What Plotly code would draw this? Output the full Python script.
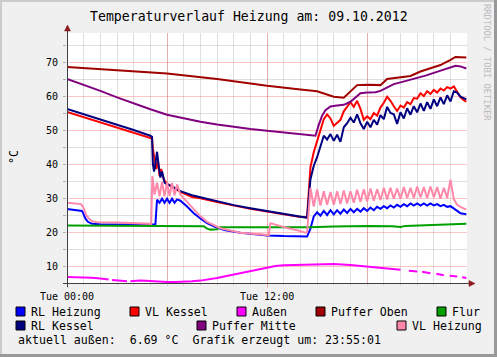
import plotly.graph_objects as go

# ---------------- data (hours of the day, °C) ----------------
PM_T = [14.4, 14.6, 14.8, 15.0, 15.2, 15.4, 15.6, 15.8, 16.0, 16.2, 16.4, 16.6, 16.8, 17.0,
        17.2, 17.4, 17.6, 17.8, 18.0, 18.2, 18.4, 18.6, 18.8, 19.0, 19.2, 19.4, 19.6, 19.8,
        20.0, 20.2, 20.4, 20.6, 20.8, 21.0, 21.2, 21.4, 21.6, 21.8, 22.0, 22.2, 22.4, 22.6,
        22.8, 23.0, 23.2, 23.4, 23.6, 23.8, 23.95]

rl_heizung_t = [0, 0.5, 0.9, 1.0, 1.1, 1.25, 1.5, 2.0, 5.3, 5.4, 5.55, 5.7, 5.85, 6.0, 6.15, 6.3,
                6.45, 6.6, 6.8, 7.2, 7.6, 8.0, 8.4, 9.0, 9.5, 10.4, 11.2, 12.0, 13.0, 14.0] + PM_T
rl_heizung_v = [26.8, 26.5, 26.2, 25.2, 24.0, 23.0, 22.4, 22.3, 22.2, 29.5, 28.6, 29.8, 28.6, 29.8,
                28.6, 29.8, 28.6, 29.6, 29.2, 27.5, 25.5, 24.0, 22.6, 21.2, 20.5, 19.8, 19.3, 19.0,
                18.8, 18.7,
                18.7, 21.0, 24.6, 25.8, 24.8, 26.2, 25.0, 26.4, 25.2, 26.4, 25.4, 26.6, 25.6, 26.8,
                25.8, 26.8, 26.0, 27.0, 26.2, 27.2, 26.4, 27.4, 26.8, 27.6, 27.0, 27.8, 27.2, 28.0,
                27.4, 28.2, 27.6, 28.4, 27.8, 28.4, 27.8, 28.4, 27.8, 28.4, 27.8, 28.2, 27.6, 28.0,
                27.4, 27.6, 26.8, 26.2, 25.5, 25.2, 25.2]

vl_kessel_t = [0, 1, 2, 3, 4, 5.0, 5.1, 5.15, 5.25, 5.35, 5.45, 5.55, 5.65, 5.8, 6.0, 6.3, 6.8,
               7.5, 8.0, 9.0, 10.0, 11.0, 12.0, 13.0, 14.0] + PM_T
vl_kessel_v = [55.3, 53.8, 52.3, 50.8, 49.3, 47.8, 47.5, 44.5, 41.5, 38.5, 41.0, 36.5, 38.5, 35.5,
               34.2, 33.3, 31.8, 30.3, 29.9, 28.8, 27.7, 26.8, 26.0, 25.2, 24.4,
               24.5, 39.0, 43.5, 46.5, 50.0, 53.2, 54.6, 53.4, 51.2, 52.0, 53.0, 55.5, 57.0, 58.2,
               56.8, 58.6, 56.2, 53.0, 54.0, 53.2, 55.0, 54.2, 56.6, 58.0, 59.8, 58.6, 57.0, 55.6,
               57.2, 56.6, 58.2, 57.6, 59.4, 59.2, 60.8, 60.0, 61.4, 60.6, 61.8, 61.0, 62.2, 61.6,
               62.6, 62.2, 62.8, 61.2, 59.6, 58.8, 58.3]

aussen_t = [0, 0.5, 1, 1.5, 2, 2.5, 2.6, 2.7, 3.2, 3.6, 3.7, 3.8, 4.4, 5, 5.5, 6, 6.5, 7, 7.5,
            8, 8.5, 9, 9.5, 10, 10.5, 11, 11.5, 12, 12.5, 13, 14, 15, 16, 17, 18, 19, 19.5, 20,
            20.4, 20.5, 21, 21.15, 21.3, 21.8, 22.0, 22.15, 22.6, 22.8, 22.95, 23.4, 23.55, 23.7,
            23.95]
aussen_v = [6.8, 6.75, 6.7, 6.55, 6.3, 6.0, None, 5.9, 5.6, 5.5, None, 5.55, 5.7, 5.6, 5.4, 5.3, 5.3,
            5.35, 5.5, 5.7, 6.0, 6.5, 7.0, 7.5, 8.0, 8.6, 9.2, 9.7, 10.0, 10.2, 10.3, 10.5, 10.6,
            10.3, 9.9, 9.5, 9.2, 8.9, None, 8.6, 8.4, None, 8.3, 7.9, None, 7.7, 7.3, None, 7.1,
            6.9, None, 6.7, 6.5]

puffer_oben_t = [0, 3, 6, 9, 12, 14, 15.0, 15.5, 16.0, 16.6, 17.0, 17.4, 18.0, 18.8, 19.2, 20.0,
                 20.6, 21.2, 21.8, 22.4, 23.0, 23.3, 23.95]
puffer_oben_v = [68.5, 67.6, 66.6, 65.0, 63.0, 61.9, 61.4, 60.6, 59.8, 59.5, 61.3, 63.2, 63.3, 63.2,
                 65.0, 65.6, 65.9, 67.2, 68.2, 69.1, 70.6, 71.5, 71.3]

flur_t = [0, 8.0, 8.2, 8.4, 8.6, 9.0, 9.2, 10.0, 14.4, 14.6, 16, 18, 19.5, 20.0, 20.3, 22, 23.95]
flur_v = [21.9, 21.9, 21.7, 21.0, 20.7, 20.8, 21.4, 21.4, 21.3, 21.4, 21.6, 21.8, 21.7, 21.5, 21.8,
          22.1, 22.4]

rl_kessel_t = [0, 1, 2, 3, 4, 5.0, 5.1, 5.15, 5.22, 5.3, 5.4, 5.5, 5.6, 5.7, 5.85, 6.0, 6.3, 6.8,
               7.5, 8.0, 9.0, 10.0, 11.0, 12.0, 13.0, 14.0] + PM_T
rl_kessel_v = [56.2, 54.7, 53.1, 51.5, 50.0, 48.3, 48.0, 40.0, 37.8, 40.0, 43.6, 39.5, 36.0, 37.8,
               34.5, 34.0, 33.4, 32.0, 30.8, 30.2, 29.0, 27.9, 27.0, 26.2, 25.4, 24.6,
               24.2, 35.5, 39.5, 42.0, 45.5, 48.3, 47.2, 48.8, 46.8, 48.6, 46.5, 50.8, 52.0, 53.6,
               52.2, 54.6, 52.0, 50.3, 52.4, 50.8, 53.0, 51.6, 54.4, 53.2, 56.8, 55.0, 54.6, 51.8,
               55.2, 53.4, 56.4, 54.5, 57.0, 55.2, 57.8, 55.6, 58.2, 56.2, 59.0, 57.0, 59.6, 57.6,
               60.2, 58.4, 61.4, 61.0, 59.8, 59.2, 59.0]

puffer_mitte_t = [0, 1, 2, 3, 4, 5, 6, 7, 8, 9, 10, 11, 12, 13, 14, 14.5, 14.9, 15.1, 15.3, 15.5,
                  15.8, 16.2, 16.6, 17.0, 17.3, 17.6, 18.0, 18.5, 18.8, 19.2, 19.6, 20.0, 20.5,
                  21.0, 21.5, 22.0, 22.5, 23.0, 23.3, 23.6, 23.95]
puffer_mitte_v = [65.0, 63.3, 61.5, 59.6, 57.8, 56.1, 54.5, 53.4, 52.4, 51.6, 50.9, 50.3, 49.8, 49.3,
                  48.9, 48.5, 48.3, 51.5, 54.2, 55.8, 56.9, 57.2, 57.4, 58.3, 59.6, 60.8, 61.0,
                  61.1, 61.5, 62.5, 63.5, 64.0, 64.6, 65.3, 66.0, 66.8, 67.6, 68.5, 68.9, 68.7, 68.1]

vl_heizung_t = [0, 0.5, 0.85, 1.0, 1.15, 1.3, 1.5, 1.8, 3.0, 5.05, 5.12, 5.25, 5.4, 5.55, 5.7, 5.85,
                6.0, 6.15, 6.3, 6.45, 6.6, 6.8, 7.2, 7.6, 8.0, 8.4, 9.2, 10.4, 11.6, 12.1, 12.2,
                12.6, 13.2, 13.8, 14.3] + PM_T
vl_heizung_v = [28.6, 28.4, 28.2, 27.0, 25.0, 24.0, 23.2, 22.9, 22.8, 22.4, 36.5, 31.0, 34.5, 30.5,
                34.8, 30.5, 34.6, 30.6, 34.4, 30.8, 34.0, 31.0, 28.8, 26.6, 24.6, 23.0, 21.1, 19.8,
                19.2, 19.1, 22.6, 22.0, 21.2, 20.5, 19.8,
                20.0, 33.0, 27.5, 32.5, 27.8, 32.0, 28.0, 31.8, 28.0, 32.0, 28.2, 32.2, 28.4, 32.0,
                28.6, 32.4, 28.8, 32.6, 29.0, 32.8, 29.2, 32.6, 29.4, 33.0, 29.6, 33.0, 29.8, 32.8,
                29.8, 33.2, 30.0, 33.0, 30.0, 33.4, 30.2, 33.2, 30.0, 33.4, 30.2, 33.2, 29.8, 33.0,
                30.0, 35.4, 29.6, 28.0, 27.4, 26.8, 26.6]

series_names = ["RL Heizung", "VL Kessel", "Außen", "Puffer Oben", "Flur",
                "RL Kessel", "Puffer Mitte", "VL Heizung"]
series_colors = ["#0000ff", "#ff0000", "#ff00ff", "#a00000", "#00a000",
                 "#000080", "#800080", "#ff88aa"]
series_t = [rl_heizung_t, vl_kessel_t, aussen_t, puffer_oben_t, flur_t,
            rl_kessel_t, puffer_mitte_t, vl_heizung_t]
series_v = [rl_heizung_v, vl_kessel_v, aussen_v, puffer_oben_v, flur_v,
            rl_kessel_v, puffer_mitte_v, vl_heizung_v]

x_tickvals = [0, 6, 12, 18]
x_ticktext = ["Tue 00:00", "", "Tue 12:00", ""]
x_minor = list(range(0, 24))
y_tickvals = [10, 20, 30, 40, 50, 60, 70]
y_minor = [5, 15, 25, 35, 45, 55, 65, 75]

title_text = "Temperaturverlauf Heizung am: 09.10.2012"
footer_text = "aktuell außen:  6.69 °C  Grafik erzeugt um: 23:55:01"
watermark = "RRDTOOL / TOBI OETIKER"

# ---------------- figure ----------------
W, H = 497, 357
L, R, T, B = 67, 30, 33, 74
PW, PH = W - L - R, H - T - B
MONO = "DejaVu Sans Mono"


def px(x):
    return (x - L) / PW


def py(y):
    return (H - B - y) / PH


fig = go.Figure()
for n, c, t, v in zip(series_names, series_colors, series_t, series_v):
    fig.add_trace(go.Scatter(x=t, y=v, mode="lines", name=n, connectgaps=False,
                             line=dict(color=c, width=2), showlegend=False,
                             hoverinfo="skip"))

MAJ = "rgba(255,64,64,0.3)"
MIN = "rgba(170,170,170,0.38)"

fig.update_layout(
    width=W, height=H, autosize=False,
    margin=dict(l=L, r=R, t=T, b=B, pad=0),
    paper_bgcolor="#f0f0f0", plot_bgcolor="#ffffff",
    showlegend=False,
    font=dict(family=MONO, color="#000000", size=10),
    xaxis=dict(range=[0, 23.99], tickmode="array", tickvals=x_tickvals, ticktext=x_ticktext,
               showgrid=True, gridcolor=MAJ, gridwidth=1, zeroline=False, showline=False,
               ticks="outside", ticklen=4, tickcolor=MAJ, tickfont=dict(family=MONO, size=10),
               automargin=False, fixedrange=True,
               minor=dict(tickmode="array", tickvals=x_minor, showgrid=True, gridcolor=MIN,
                          ticks="outside", ticklen=2, tickcolor=MIN)),
    yaxis=dict(range=[5, 78.53], tickmode="array", tickvals=y_tickvals,
               ticktext=[str(v) for v in y_tickvals],
               showgrid=True, gridcolor=MAJ, gridwidth=1, zeroline=False, showline=False,
               ticks="outside", ticklen=3, tickcolor="#b0b0b0", ticklabelstandoff=3,
               tickfont=dict(family=MONO, size=10), automargin=False, fixedrange=True,
               minor=dict(tickmode="array", tickvals=y_minor, showgrid=True, gridcolor=MIN,
                          ticks="outside", ticklen=3, tickcolor="#b0b0b0")),
)

shapes = []
# frame
shapes.append(dict(type="rect", xref="paper", yref="paper", x0=px(0), x1=px(W), y0=py(0), y1=py(2),
                   fillcolor="#cbcbcb", line=dict(width=0), layer="above"))
shapes.append(dict(type="rect", xref="paper", yref="paper", x0=px(0), x1=px(2), y0=py(0), y1=py(H),
                   fillcolor="#cbcbcb", line=dict(width=0), layer="above"))
shapes.append(dict(type="rect", xref="paper", yref="paper", x0=px(0), x1=px(W), y0=py(H - 3), y1=py(H),
                   fillcolor="#999999", line=dict(width=0), layer="above"))
shapes.append(dict(type="rect", xref="paper", yref="paper", x0=px(W - 3), x1=px(W), y0=py(0), y1=py(H),
                   fillcolor="#999999", line=dict(width=0), layer="above"))
# axes with arrows
AX = "#404040"
ARR = "#8b1a1a"
shapes.append(dict(type="line", xref="paper", yref="paper", x0=px(63), x1=px(470),
                   y0=py(283.5), y1=py(283.5), line=dict(color=AX, width=1), layer="above"))
shapes.append(dict(type="line", xref="paper", yref="paper", x0=px(67.5), x1=px(67.5),
                   y0=py(287), y1=py(29), line=dict(color=AX, width=1), layer="above"))
shapes.append(dict(type="path", xref="paper", yref="paper",
                   path=f"M {px(469)},{py(280.5)} L {px(475)},{py(283.5)} L {px(469)},{py(286.5)} Z",
                   fillcolor=ARR, line=dict(color=ARR, width=0.5), layer="above"))
shapes.append(dict(type="path", xref="paper", yref="paper",
                   path=f"M {px(64.5)},{py(31)} L {px(67.5)},{py(25)} L {px(70.5)},{py(31)} Z",
                   fillcolor=ARR, line=dict(color=ARR, width=0.5), layer="above"))

annotations = []
annotations.append(dict(text=title_text, x=px(249), y=py(16.5), xref="paper", yref="paper",
                        xanchor="center", yanchor="middle", showarrow=False,
                        font=dict(family=MONO, size=13.2, color="#000000")))
annotations.append(dict(text="°C", x=px(14), y=py(157), xref="paper", yref="paper",
                        xanchor="center", yanchor="middle", showarrow=False, textangle=-90,
                        font=dict(family=MONO, size=11.6, color="#000000")))
annotations.append(dict(text=watermark, x=px(487), y=py(62), xref="paper", yref="paper",
                        xanchor="center", yanchor="middle", showarrow=False, textangle=90,
                        font=dict(family=MONO, size=8.8, color="#bdbdbd")))

# legend (RRDtool style)
legend_pos = [(16, 307, 30, 311.5), (130, 307, 144, 311.5), (237, 307, 251, 311.5),
              (316, 307, 330, 311.5), (437, 307, 451, 311.5),
              (16, 321, 30, 325.5), (197, 321, 211, 325.5), (397, 321, 411, 325.5)]
for (sx, sy, tx, ty), n, c in zip(legend_pos, series_names, series_colors):
    shapes.append(dict(type="rect", xref="paper", yref="paper", x0=px(sx), x1=px(sx + 9),
                       y0=py(sy), y1=py(sy + 9), fillcolor=c, line=dict(color="#000000", width=1),
                       layer="above"))
    annotations.append(dict(text=n, x=px(tx - 0.5), y=py(ty), xref="paper", yref="paper",
                            xanchor="left", yanchor="middle", showarrow=False, borderpad=0,
                            font=dict(family=MONO, size=11.6, color="#000000")))
annotations.append(dict(text=footer_text.replace("  ", "\u00a0\u00a0"), x=px(16.5), y=py(339.5),
                        xref="paper", yref="paper", xanchor="left", yanchor="middle",
                        showarrow=False, borderpad=0,
                        font=dict(family=MONO, size=11.6, color="#000000")))

fig.update_layout(shapes=shapes, annotations=annotations)
fig.write_html("out.html")
